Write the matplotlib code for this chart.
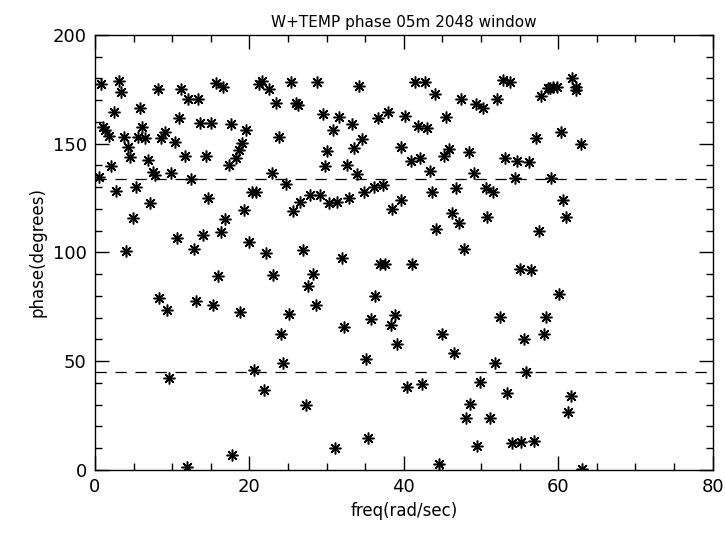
import matplotlib
matplotlib.use("Agg")
import matplotlib.pyplot as plt
from matplotlib.ticker import MultipleLocator

# frequency (rad/sec) and phase (degrees)
freq = [0.8, 3.1, 3.4, 8.1, 11.2, 15.7, 16.6, 12.1, 13.4, 2.4, 5.8, 10.9, 1.1, 1.3,
        1.85, 3.7, 6.1, 5.6, 6.5, 4.3, 4.6, 8.6, 9.1, 10.4, 13.6, 15.0, 17.6, 19.5,
        19.1, 18.6, 18.2, 17.3, 6.9, 2.07, 11.6, 14.4, 0.56, 7.5, 7.8, 9.9, 12.5,
        2.7, 5.3, 7.1, 14.7, 20.3, 20.8, 4.9, 16.8, 19.3, 10.6, 14.0, 16.3, 12.8,
        3.97, 20.0, 15.9, 8.3, 9.3, 13.1, 15.3, 18.8, 9.6, 11.9, 17.8,
        21.6, 21.3, 22.6, 25.4, 28.8, 34.2, 23.5, 26.1, 26.3, 29.5, 31.6, 33.3,
        36.7, 38.0, 23.8, 30.8, 34.6, 33.5, 30.1, 39.6, 29.8, 32.6, 33.9, 22.9,
        24.7, 25.7, 26.6, 27.8, 29.1, 30.3, 31.4, 32.9, 34.8, 36.1, 37.3, 38.5,
        39.6, 22.2, 27.0, 32.0, 36.9, 37.6, 23.1, 28.2, 27.6, 36.3, 28.6, 25.1,
        35.8, 38.8, 38.3, 32.3, 24.1, 39.1, 24.4, 35.1, 20.6, 21.9, 27.3, 35.4, 31.1,
        41.4, 42.7, 52.9, 53.7, 44.0, 47.4, 49.3, 50.3, 52.1, 57.8, 58.7, 40.1,
        45.5, 41.9, 43.0, 40.9, 42.1, 45.9, 45.2, 48.4, 53.1, 54.6, 56.2, 57.1,
        43.4, 49.1, 54.4, 59.1, 58.9, 59.3, 59.8, 61.8, 62.3, 62.3, 60.3, 62.9,
        43.6, 46.8, 50.6, 51.5, 46.2, 47.1, 50.8, 44.2, 57.5, 47.8, 41.1, 55.0,
        56.5, 52.4, 58.4, 60.6, 61.0, 60.1, 44.9, 46.5, 55.6, 58.1, 51.8, 55.8,
        40.4, 42.4, 49.9, 53.4, 48.6, 48.0, 51.2, 49.5, 54.0, 55.2, 56.8, 44.6,
        61.6, 61.3, 63.1]
phase = [177.3, 178.8, 174.0, 175.0, 175.2, 177.8, 176.0, 170.4, 170.4, 164.7, 166.6,
         161.8, 157.9, 156.3, 153.6, 153.2, 157.6, 153.0, 152.5, 148.7, 144.0, 152.5,
         155.6, 151.0, 159.7, 159.7, 158.9, 156.3, 150.2, 147.1, 143.6, 140.2, 142.5,
         139.8, 144.4, 144.4, 134.9, 137.2, 135.6, 136.4, 133.6,
         128.3, 130.3, 122.9, 125.2, 128.0, 127.7, 115.7, 115.4, 119.5, 106.5, 108.0,
         109.3, 101.5, 100.8, 105.0, 89.2, 79.2, 73.6, 77.9, 75.9, 72.5, 42.2, 1.5, 6.9,
         179.0, 177.3, 175.2, 178.2, 178.2, 176.7, 168.6, 168.6, 167.8, 163.5, 162.1,
         158.9, 162.0, 164.8, 152.9, 156.3, 152.2, 147.9, 146.8, 148.4, 139.9, 140.2,
         135.9, 136.4, 131.4, 119.2, 123.4, 126.4, 126.4, 122.9, 123.4, 124.9, 128.0,
         130.3, 131.0, 119.9, 124.0, 99.9, 101.1, 97.3, 94.6, 94.6, 89.7, 90.1, 84.6,
         80.0, 75.9, 71.7, 69.3, 71.3, 66.7, 65.6, 62.5, 57.9, 49.1, 51.0, 46.0, 36.8,
         29.7, 14.9, 10.0,
         178.5, 178.2, 179.3, 178.2, 172.7, 170.6, 168.3, 166.6, 170.4, 172.1, 175.5,
         162.9, 162.4, 158.3, 157.1, 142.1, 143.3, 147.6, 144.5, 146.4, 143.6, 142.1,
         141.8, 152.5, 137.6, 136.4, 134.1, 134.1, 175.5, 175.9, 175.9, 180.1, 176.2,
         174.7, 155.6, 149.9, 127.7, 129.5, 129.5, 128.0, 118.0, 113.7, 116.5, 110.7,
         110.0, 101.5, 94.7, 92.3, 92.0, 70.2, 70.5, 124.1, 116.2, 80.8, 62.5, 53.6,
         60.2, 62.5, 49.1, 44.9, 38.3, 39.4, 40.3, 35.3, 30.2, 24.0, 23.8, 11.2, 12.3,
         12.7, 13.5, 2.6, 34.0, 26.5, 0.5]
ref_levels = [134, 45]

plt.rcParams['font.family'] = ['DejaVu Sans']
fig = plt.figure(figsize=(7.25, 5.35), dpi=100)
ax = fig.add_axes([0.131, 0.1215, 0.852, 0.8131])

ax.plot(freq, phase, linestyle="none", marker=(8, 2, 0), markersize=8.5,
        markeredgewidth=1.1, color="black")
for lev in ref_levels:
    ax.axhline(lev, color="black", linewidth=0.9, dashes=(9, 7))

ax.set_xlim(0, 80)
ax.set_ylim(0, 200)
ax.xaxis.set_major_locator(MultipleLocator(20))
ax.xaxis.set_minor_locator(MultipleLocator(5))
ax.yaxis.set_major_locator(MultipleLocator(50))
ax.yaxis.set_minor_locator(MultipleLocator(10))
ax.tick_params(which="both", direction="in", top=True, right=True, width=1.0,
               labelsize=13, pad=6)
ax.tick_params(which="major", length=10)
ax.tick_params(which="minor", length=5)
for s in ax.spines.values():
    s.set_linewidth(1.0)

ax.set_xlabel("freq(rad/sec)", fontsize=12)
ax.set_ylabel("phase(degrees)", fontsize=12)
ax.set_title("W+TEMP phase 05m 2048 window", fontsize=11, pad=6)

fig.savefig("out.png", dpi=100)
